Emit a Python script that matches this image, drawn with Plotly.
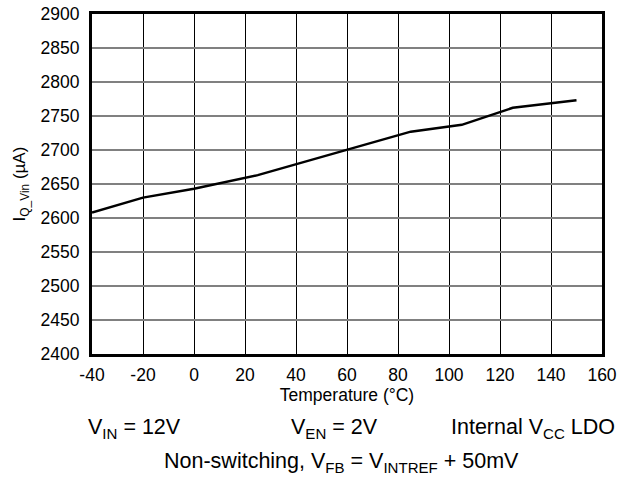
import plotly.graph_objects as go

temperature = [-40, -20, 0, 25, 85, 105, 125, 150]
iq_vin = [2608, 2630, 2643, 2663, 2727, 2737, 2762, 2773]

x_ticks = [-40, -20, 0, 20, 40, 60, 80, 100, 120, 140, 160]
x_tick_labels = ["-40", "-20", "0", "20", "40", "60", "80", "100", "120", "140", "160"]
y_ticks = [2400, 2450, 2500, 2550, 2600, 2650, 2700, 2750, 2800, 2850, 2900]
y_tick_labels = [str(v) for v in y_ticks]

FONT = "Liberation Sans, Arial, sans-serif"
W, H = 620, 477
L, R, T, B = 92, 18, 14, 123
PW, PH = W - L - R, H - T - B
ANN = 21.5


def px_x(px):
    return (px - L) / PW


def px_y(py):
    return (H - B - py) / PH


fig = go.Figure()
fig.add_trace(go.Scatter(x=temperature, y=iq_vin, mode="lines",
                         line=dict(color="black", width=2.5), showlegend=False,
                         hoverinfo="skip"))

fig.update_layout(
    width=W, height=H,
    margin=dict(l=L, r=R, t=T, b=B, autoexpand=False),
    paper_bgcolor="white", plot_bgcolor="white",
    font=dict(family=FONT, size=17.5, color="black"),
    xaxis=dict(range=[-40, 160], tickvals=x_ticks, ticktext=x_tick_labels,
               ticks="outside", ticklen=3, tickcolor="rgba(0,0,0,0)",
               showgrid=True, gridcolor="black", gridwidth=1, zeroline=False,
               showline=True, linecolor="black", linewidth=3, mirror=True,
               tickfont=dict(size=17.5),
               title=dict(text="Temperature (°C)", font=dict(size=17.5), standoff=1)),
    yaxis=dict(range=[2400, 2900], tickvals=y_ticks, ticktext=y_tick_labels,
               ticks="outside", ticklen=6, tickcolor="rgba(0,0,0,0)",
               showgrid=True, gridcolor="#808080", gridwidth=1.5, zeroline=False,
               showline=True, linecolor="black", linewidth=3, mirror=True,
               tickfont=dict(size=17.5),
               title=dict(text="I<sub>Q_Vin</sub> (µA)", font=dict(size=17), standoff=11)),
    annotations=[
        dict(text="V<sub>IN</sub> = 12V", x=px_x(183), y=px_y(428), xref="paper", yref="paper",
             showarrow=False, font=dict(size=ANN), xanchor="right", yanchor="middle"),
        dict(text="V<sub>EN</sub> = 2V", x=px_x(380), y=px_y(428), xref="paper", yref="paper",
             showarrow=False, font=dict(size=ANN), xanchor="right", yanchor="middle"),
        dict(text="Internal V<sub>CC</sub> LDO", x=px_x(617), y=px_y(428), xref="paper", yref="paper",
             showarrow=False, font=dict(size=ANN), xanchor="right", yanchor="middle"),
        dict(text="Non-switching, V<sub>FB</sub> = V<sub>INTREF</sub> + 50mV", x=px_x(341), y=px_y(462),
             xref="paper", yref="paper", showarrow=False, font=dict(size=ANN),
             xanchor="center", yanchor="middle"),
    ],
)

fig.write_html("out.html", config={"displayModeBar": False},
               post_script="document.body.style.margin='0';document.body.style.overflow='hidden';")
